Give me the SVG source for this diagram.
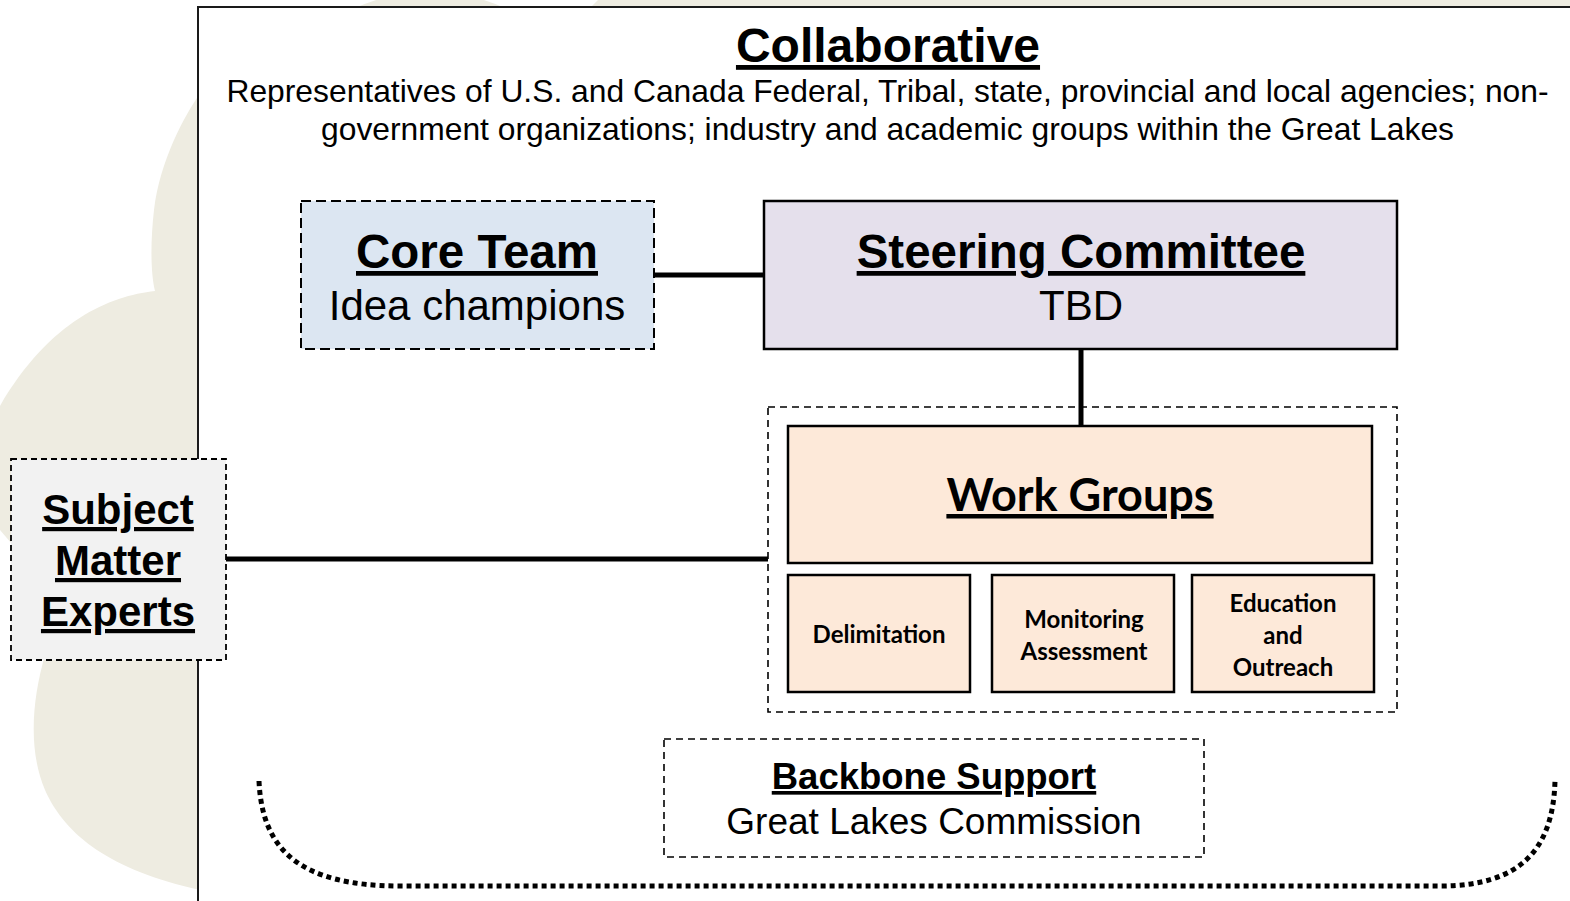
<svg xmlns="http://www.w3.org/2000/svg" width="1570" height="901" viewBox="0 0 1570 901">
<defs>
<style>
.ar{font-family:"Liberation Sans",Arial,sans-serif;fill:#000;text-anchor:middle}
.b{font-weight:bold;text-decoration:underline}
.cal{font-family:Lato,"Liberation Sans",sans-serif;font-weight:bold;fill:#000;text-anchor:middle}
.solid{stroke:#000;stroke-width:2.5}
.dash{stroke:#000;stroke-width:1.6;stroke-dasharray:7 5;fill:none}
.conn{stroke:#000;stroke-width:5;fill:none}
.wg{fill:#FDE9D9;stroke:#000;stroke-width:2.5}
</style>
</defs>
<rect width="1570" height="901" fill="#fff"/>
<g id="background" fill="#EEECE1">
<path d="M199,95 C185,115 160,160 154,210 C150,245 151,275 155,291 C110,296 50,320 0,406 L0,530 L60,600 L45,655 C32,700 28,750 45,790 C65,835 110,870 200,890 Z"/>
<path d="M355,8 Q430,-25 505,8 Z"/>
<path d="M590,8 L598,0 L1570,0 L1570,8 Z"/>
</g>
<g id="collaborative">
<rect x="198" y="7" width="1380" height="900" fill="#fff" stroke="#1a1a1a" stroke-width="2"/>
<text class="ar b" x="888" y="62" font-size="48">Collaborative</text>
<text class="ar" x="887.5" y="102" font-size="31.8">Representatives of U.S. and Canada Federal, Tribal, state, provincial and local agencies; non-</text>
<text class="ar" x="887.5" y="140" font-size="31.8">government organizations; industry and academic groups within the Great Lakes</text>
</g>
<g id="connectors">
<line class="conn" x1="654" y1="275" x2="764" y2="275"/>
<line class="conn" x1="1081" y1="349" x2="1081" y2="426"/>
<line class="conn" x1="226" y1="559" x2="768" y2="559"/>
</g>
<g id="core-team">
<rect x="301" y="201" width="353" height="148" fill="#DCE6F2" stroke="#000" stroke-width="2" stroke-dasharray="10 5"/>
<text class="ar b" x="477" y="268" font-size="47.5">Core Team</text>
<text class="ar" x="477" y="320" font-size="42">Idea champions</text>
</g>
<g id="steering-committee">
<rect x="764" y="201" width="633" height="148" fill="#E5E0EC" class="solid"/>
<text class="ar b" x="1081" y="268" font-size="47.5">Steering Committee</text>
<text class="ar" x="1081" y="320" font-size="42">TBD</text>
</g>
<g id="work-groups-container">
<rect x="768" y="407" width="629" height="305" class="dash"/>
</g>
<g id="work-groups">
<rect x="788" y="426" width="584" height="137" class="wg"/>
<text class="cal" x="1080" y="511" font-size="45" text-decoration="underline">Work Groups</text>
</g>
<g id="delimitation">
<rect x="788" y="575" width="182" height="117" class="wg"/>
<text class="cal" x="879" y="643" font-size="24">Delimitation</text>
</g>
<g id="monitoring-assessment">
<rect x="992" y="575" width="182" height="117" class="wg"/>
<text class="cal" x="1084" y="628" font-size="24">Monitoring</text>
<text class="cal" x="1084" y="660" font-size="24">Assessment</text>
</g>
<g id="education-outreach">
<rect x="1192" y="575" width="182" height="117" class="wg"/>
<text class="cal" x="1283" y="612" font-size="24">Education</text>
<text class="cal" x="1283" y="644" font-size="24">and</text>
<text class="cal" x="1283" y="676" font-size="24">Outreach</text>
</g>
<g id="subject-matter-experts">
<rect x="11" y="459" width="215" height="201" fill="#F2F2F2" stroke="#000" stroke-width="1.8" stroke-dasharray="6 4"/>
<text class="ar b" x="118" y="524" font-size="42">Subject</text>
<text class="ar b" x="118" y="575" font-size="42">Matter</text>
<text class="ar b" x="118" y="626" font-size="42">Experts</text>
</g>
<g id="backbone-support">
<rect x="664" y="739" width="540" height="118" fill="#fff" class="dash"/>
<text class="ar b" x="934" y="789" font-size="36.5">Backbone Support</text>
<text class="ar" x="934" y="834" font-size="37">Great Lakes Commission</text>
</g>
<g id="bracket">
<path d="M259,781 C262,850 300,886 400,886 L1440,886 C1520,886 1553,850 1555,781" fill="none" stroke="#000" stroke-width="5" stroke-dasharray="5 4"/>
</g>
</svg>
